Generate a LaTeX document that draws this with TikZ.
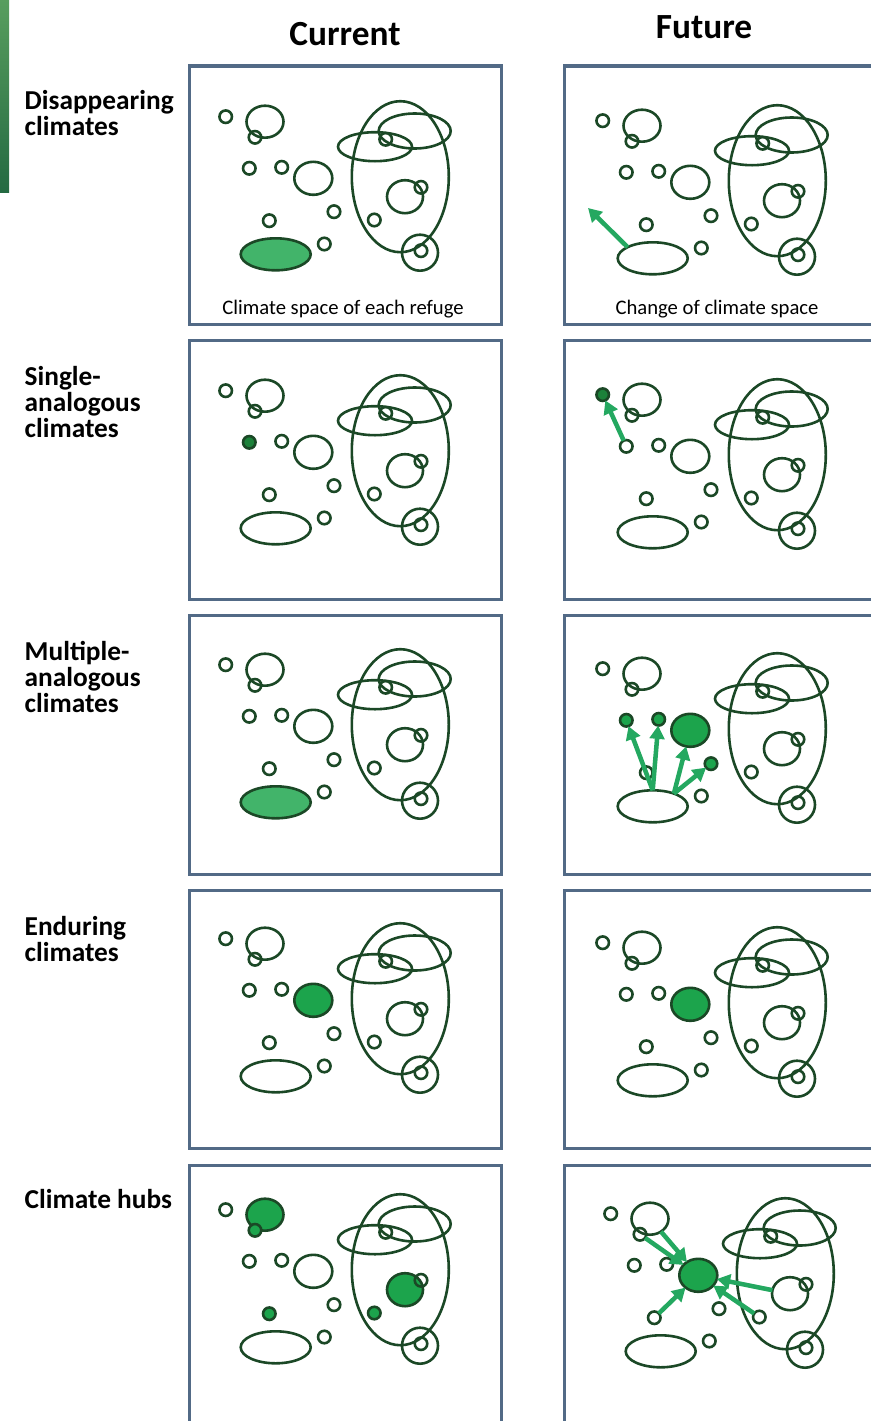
\documentclass[tikz,border=0pt]{standalone}
\usepackage{fontspec}
\setmainfont{Carlito}
\usetikzlibrary{arrows.meta,shapes.geometric}

\definecolor{rimgreen}{RGB}{27,72,38}
\definecolor{leafsoft}{RGB}{66,180,106}
\definecolor{leafdeep}{RGB}{28,130,58}
\definecolor{leafmid}{RGB}{28,164,76}
\definecolor{driftgreen}{RGB}{36,168,96}
\definecolor{framegray}{RGB}{82,106,134}
\definecolor{barlight}{RGB}{88,158,94}
\definecolor{bardark}{RGB}{36,106,66}

\tikzset{
  ring/.style={draw=rimgreen, line width=1.95pt, inner sep=0pt, outer sep=0pt},
  dot/.style={ring, circle, minimum size=12.5*0.75pt},
  blob/.style 2 args={ring, ellipse, minimum width=#1*0.75pt, minimum height=#2*0.75pt},
  frame/.style={draw=framegray, line width=2.3pt},
  drift/.style={-{Triangle[length=10pt,width=11pt]}, draw=driftgreen, line width=3.4pt},
  headtext/.style={font=\fontsize{26.5}{30}\selectfont\bfseries},
  rowtext/.style={font=\fontsize{20.5}{19.5}\selectfont\bfseries, align=left, anchor=base west},
  captext/.style={font=\fontsize{15.5}{18}\selectfont, anchor=base},
  spotA/.style={}, spotB/.style={}, spotC/.style={}, spotD/.style={},
  spotE/.style={}, spotF/.style={}, spotG/.style={}, spotH/.style={},
  spotI/.style={}, spotO/.style={}, spotQ/.style={}
}

% one climate-space map, #1 name suffix, #2 shift, #3 fills
\newcommand\refmap[3]{%
  \begin{scope}[shift={#2},#3]
    \node[dot, spotA] (A#1) at (225.7,116.7) {};
    \node[blob={37}{32}, spotB] (B#1) at (265,121.7) {};
    \node[dot, spotC] (C#1) at (255,137.3) {};
    \node[dot, spotD] (D#1) at (249.3,168.3) {};
    \node[dot, spotE] (E#1) at (281.7,167.3) {};
    \node[blob={38}{33}, spotF] (F#1) at (313.3,178.3) {};
    \node[dot, spotG] (G#1) at (334,211.7) {};
    \node[dot, spotH] (H#1) at (269.3,220.7) {};
    \node[blob={70}{32}, spotI] (I#1) at (275.7,254.3) {};
    \node[dot] (J#1) at (324.3,244) {};
    \node[blob={97}{151}] (K#1) at (400.3,176.7) {};
    \node[blob={74}{29}] (L#1) at (375,146.7) {};
    \node[blob={72}{35}] (M#1) at (414.7,131) {};
    \node[dot] (N#1) at (385.7,139.3) {};
    \node[blob={36}{33}, spotO] (O#1) at (405,196.7) {};
    \node[dot] (P#1) at (421,187.3) {};
    \node[dot, spotQ] (Q#1) at (374.3,220) {};
    \node[blob={36}{36}] (R#1) at (420,252.7) {};
    \node[dot] (S#1) at (421,250.7) {};
  \end{scope}}

\begin{document}
\begin{tikzpicture}[x=0.75pt, y=-0.75pt]
    \useasboundingbox (0,0) rectangle (871,1421);
    \clip (0,0) rectangle (871,1421);
    \shade[top color=barlight, bottom color=bardark] (0,0) rectangle (9,192);

    % column heads
    \node[headtext, anchor=base] (hdcur) at (345,45) {Current};
    \node[headtext, anchor=base] (hdfut) at (704,38) {Future};

    % row names (base = last line)
    \node[rowtext] (lbl1) at (20,135) {Disappearing\\climates};
    \node[rowtext] (lbl2) at (20,437) {Single-\\analogous\\climates};
    \node[rowtext] (lbl3) at (20,712) {Multiple-\\analogous\\climates};
    \node[rowtext] (lbl4) at (20,961) {Enduring\\climates};
    \node[rowtext] (lbl5) at (20,1208) {Climate hubs};

    % frames
    \foreach \r in {0,...,4}
    {
        \draw[frame] (189.5,66+274.8*\r) rectangle ++(312,258.5);
        \draw[frame] (564.7,66+274.8*\r) rectangle ++(320,258.5);
    }

    % Disappearing
    \refmap{1c}{(0,0)}{spotI/.style={fill=leafsoft}}
    \refmap{1f}{(377,4)}{}
    \coordinate (drift1) at (588,208);
    \draw[drift] (I1f.156) -- (drift1);
    \node[captext] (cap1c) at (343,314) {Climate space of each refuge};
    \node[captext] (cap1f) at (717,314) {Change of climate space};

    % Single-analogous
    \refmap{2c}{(0,274)}{spotD/.style={fill=leafdeep}}
    \refmap{2f}{(377,278)}{spotA/.style={fill=leafdeep}}
    \draw[drift] (D2f) -- (A2f);

    % Multiple-analogous
    \refmap{3c}{(0,548)}{spotI/.style={fill=leafsoft}}
    \refmap{3f}{(377,552)}{spotD/.style={fill=leafmid}, spotE/.style={fill=leafmid},
        spotF/.style={fill=leafmid}, spotG/.style={fill=leafmid}}
    \draw[drift] (I3f.north) -- (D3f);
    \draw[drift] (I3f.north) -- (E3f);
    \draw[drift] (I3f.31) -- (F3f);
    \draw[drift] (I3f.31) -- (G3f);

    % Enduring
    \refmap{4c}{(0,822)}{spotF/.style={fill=leafmid}}
    \refmap{4f}{(377,826)}{spotF/.style={fill=leafmid}}

    % Climate hubs
    \refmap{5c}{(0,1093)}{spotB/.style={fill=leafmid}, spotC/.style={fill=leafmid},
        spotH/.style={fill=leafmid}, spotO/.style={fill=leafmid}, spotQ/.style={fill=leafmid}}
    \refmap{5f}{(385,1097)}{spotF/.style={fill=leafmid}}
    \draw[drift] (C5f) -- (F5f);
    \draw[drift] (B5f) -- (F5f);
    \draw[drift] (H5f) -- (F5f);
    \draw[drift] (O5f) -- (F5f);
    \draw[drift] (Q5f) -- (F5f);
\end{tikzpicture}
\end{document}
